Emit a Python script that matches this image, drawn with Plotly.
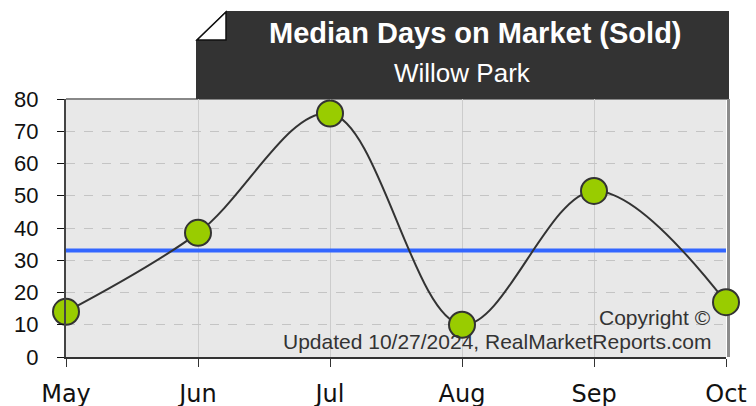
import plotly.graph_objects as go

months = ["May", "Jun", "Jul", "Aug", "Sep", "Oct"]
days = [14, 38.5, 75.5, 10, 51.5, 17]
median_line = 33
y_ticks = [0, 10, 20, 30, 40, 50, 60, 70, 80]
title = "Median Days on Market (Sold)"
subtitle = "Willow Park"
copyright_lines = ["Copyright ©", "Updated 10/27/2024, RealMarketReports.com"]

# page body has an 8px margin; work in screen pixels and convert
OFF = 8
W, H = 756, 406
SX0, SX1, SY0, SY1 = 66, 726, 99, 357  # plot area in screen pixels
L, T = SX0 - OFF, SY0 - OFF
R, B = W - (SX1 - OFF), H - (SY1 - OFF)
PW, PH = SX1 - SX0, SY1 - SY0


def px(x):
    return (x - SX0) / PW


def py(y):
    return (SY1 - y) / PH


xpos = list(range(len(months)))

fig = go.Figure()
fig.add_trace(go.Scatter(
    x=[xpos[0], xpos[-1]], y=[median_line, median_line], mode="lines",
    line=dict(color="#3366ff", width=4), hoverinfo="skip", showlegend=False,
    cliponaxis=False))
fig.add_trace(go.Scatter(
    x=xpos, y=days, mode="lines+markers",
    line=dict(color="#333333", width=2, shape="spline", smoothing=1.0),
    marker=dict(size=26, color="#99cc00", line=dict(color="#333333", width=2)),
    showlegend=False, cliponaxis=False))

shapes = []
shapes.append(dict(type="line", xref="paper", yref="paper", x0=px(66), x1=px(729),
                   y0=py(99), y1=py(99), line=dict(color="#888888", width=2), layer="below"))
shapes.append(dict(type="rect", xref="paper", yref="paper", x0=px(727), x1=px(730),
                   y0=py(357), y1=py(99), fillcolor="#8c8c8c", line=dict(width=0), layer="below"))
path = "M {} {} L {} {} L {} {} L {} {} L {} {} Z".format(
    px(226), py(11), px(729), py(11), px(729), py(99), px(196), py(99), px(196), py(40))
shapes.append(dict(type="path", xref="paper", yref="paper", path=path,
                   fillcolor="#333333", line=dict(width=0), layer="above"))
tri = "M {} {} L {} {} L {} {} Z".format(px(226), py(12), px(197), py(40), px(226), py(40))
shapes.append(dict(type="path", xref="paper", yref="paper", path=tri,
                   fillcolor="#ffffff", line=dict(color="#111111", width=1.5), layer="above"))

annotations = [
    dict(text="<b>" + title + "</b>", x=px(475), y=py(33), xref="paper", yref="paper",
         showarrow=False, xanchor="center", yanchor="middle",
         font=dict(family="Liberation Sans, Arial", size=29, color="#ffffff")),
    dict(text=subtitle, x=px(462), y=py(73), xref="paper", yref="paper",
         showarrow=False, xanchor="center", yanchor="middle",
         font=dict(family="Liberation Sans, Arial", size=26, color="#ffffff")),
    dict(text=copyright_lines[0], x=px(713), y=py(317), xref="paper", yref="paper",
         showarrow=False, xanchor="right", yanchor="middle",
         font=dict(family="Liberation Sans, Arial", size=21, color="#333333")),
    dict(text=copyright_lines[1], x=px(713), y=py(341), xref="paper", yref="paper",
         showarrow=False, xanchor="right", yanchor="middle",
         font=dict(family="Liberation Sans, Arial", size=21, color="#333333")),
]

fig.update_layout(
    template="none",
    width=W, height=H, margin=dict(l=L, r=R, t=T, b=B, pad=0),
    paper_bgcolor="#ffffff", plot_bgcolor="#e8e8e8",
    shapes=shapes, annotations=annotations,
    xaxis=dict(range=[0, 5], tickmode="array", tickvals=xpos, ticktext=months,
               automargin=False,
               showgrid=True, gridcolor="#cccccc", gridwidth=1, zeroline=False,
               showline=True, linecolor="#333333", linewidth=2,
               ticks="outside", ticklen=8, tickcolor="#333333", tickwidth=1,
               ticklabelstandoff=6,
               tickfont=dict(family="DejaVu Sans", size=24, color="#111111"), fixedrange=True),
    yaxis=dict(range=[0, 80], tickmode="array", tickvals=y_ticks,
               automargin=False,
               showgrid=True, gridcolor="#c4c4c4", gridwidth=1, griddash="dash", zeroline=False,
               showline=True, linecolor="#444444", linewidth=2,
               ticks="outside", ticklen=7, tickcolor="#111111", tickwidth=1,
               ticklabelstandoff=14,
               tickfont=dict(family="Liberation Sans, Arial", size=22, color="#111111"), fixedrange=True),
)

fig.write_html("out.html", config={"displayModeBar": False})
